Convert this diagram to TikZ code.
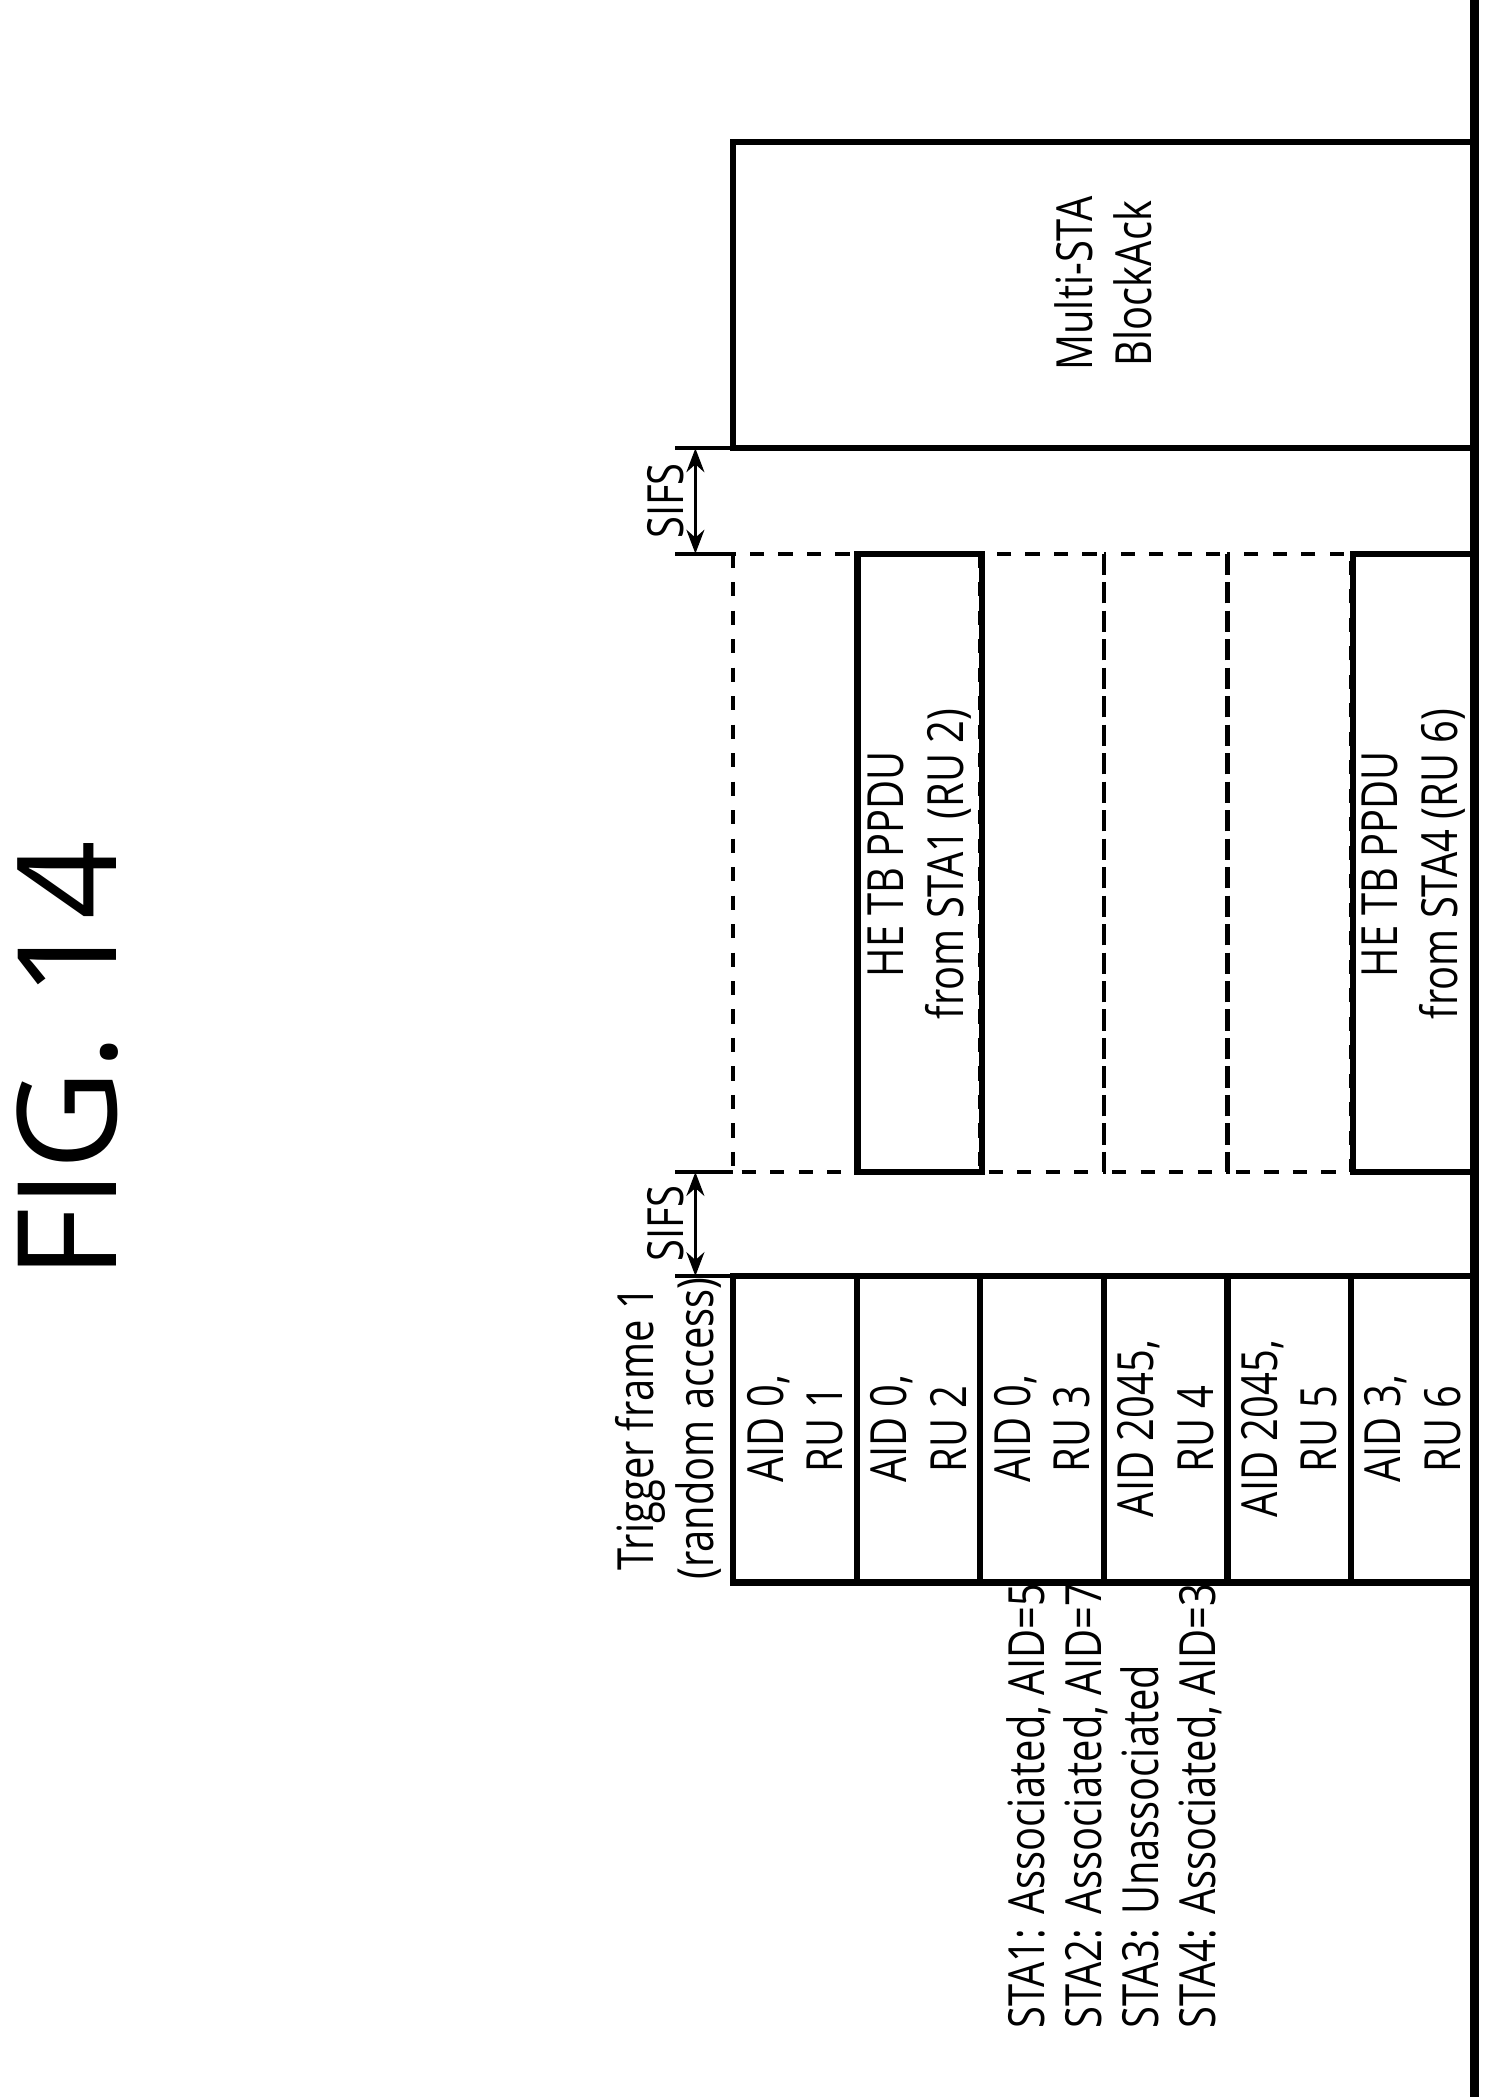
\documentclass[tikz,border=0pt]{standalone}
\usepackage{fontspec}
\setmainfont{Open Sans}[FakeStretch=0.8]
\newfontfamily\titlefont{Open Sans}
\usetikzlibrary{arrows.meta}
\tikzset{
  frame/.style={draw, line width=1.3pt},
  dashframe/.style={draw, line width=0.9pt, dashed},
  celltext/.style={rotate=90, align=center, font=\fontsize{10.5}{12.5}\selectfont},
  sifs/.style={{Stealth[length=5pt]}-{Stealth[length=5pt]}, line width=0.8pt},
}
\begin{document}
\begin{tikzpicture}[x=0.01cm, y=-0.01cm]
\useasboundingbox (0,0) rectangle (1100,1553);
% title
\node[rotate=90, font=\titlefont\fontsize{29}{34}\selectfont] (title) at (50,785) {FIG. 14};
% time axis
\draw[line width=1.8pt] (1092,0) -- (1092,1553);

% Multi-STA BlockAck
\draw[frame] (543,105) rectangle (1092,332);
\node[celltext] (back) at (817,210) {Multi-STA\\BlockAck};

% HE TB PPDUs
\foreach \i in {1,3,4,5}
  \draw[dashframe] ({543+(\i-1)*91.5},410) rectangle ({543+\i*91.5},868);
\draw[frame] (635,410) rectangle (727,868);
\draw[frame] (1002,410) rectangle (1092,868);
\node[celltext] (ppdu1) at (681,640) {HE TB PPDU\\from STA1 (RU 2)};
\node[celltext] (ppdu4) at (1047,640) {HE TB PPDU\\from STA4 (RU 6)};

% trigger frame
\foreach \i/\txt in {1/{AID 0,\\RU 1},2/{AID 0,\\RU 2},3/{AID 0,\\RU 3},
                     4/{AID 2045,\\RU 4},5/{AID 2045,\\RU 5},6/{AID 3,\\RU 6}} {
  \draw[frame] ({543+(\i-1)*91.5},945) rectangle ({543+\i*91.5},1172);
  \node[celltext] (ru\i) at ({543+(\i-0.5)*91.5},1058) {\txt};
}
\node[celltext] (trig) at (495,1058) {Trigger frame 1\\(random access)};

% SIFS
\coordinate (s1a) at (515,332);
\coordinate (s1b) at (515,410);
\coordinate (s2a) at (515,868);
\coordinate (s2b) at (515,945);
\draw[line width=0.8pt] (500,332) -- (543,332) (500,410) -- (543,410);
\draw[line width=0.8pt] (500,868) -- (543,868) (500,945) -- (543,945);
\draw[sifs] (s1a) -- (s1b);
\draw[sifs] (s2a) -- (s2b);
\node[celltext] (sifs1) at (493,371) {SIFS};
\node[celltext] (sifs2) at (493,906) {SIFS};

% station list
\node[rotate=90, anchor=north west, align=left, inner sep=0pt, font=\fontsize{10.5}{12}\selectfont] (stas) at (745,1503)
  {STA1: Associated, AID=5\\STA2: Associated, AID=7\\STA3: Unassociated\\STA4: Associated, AID=3};
\end{tikzpicture}
\end{document}
